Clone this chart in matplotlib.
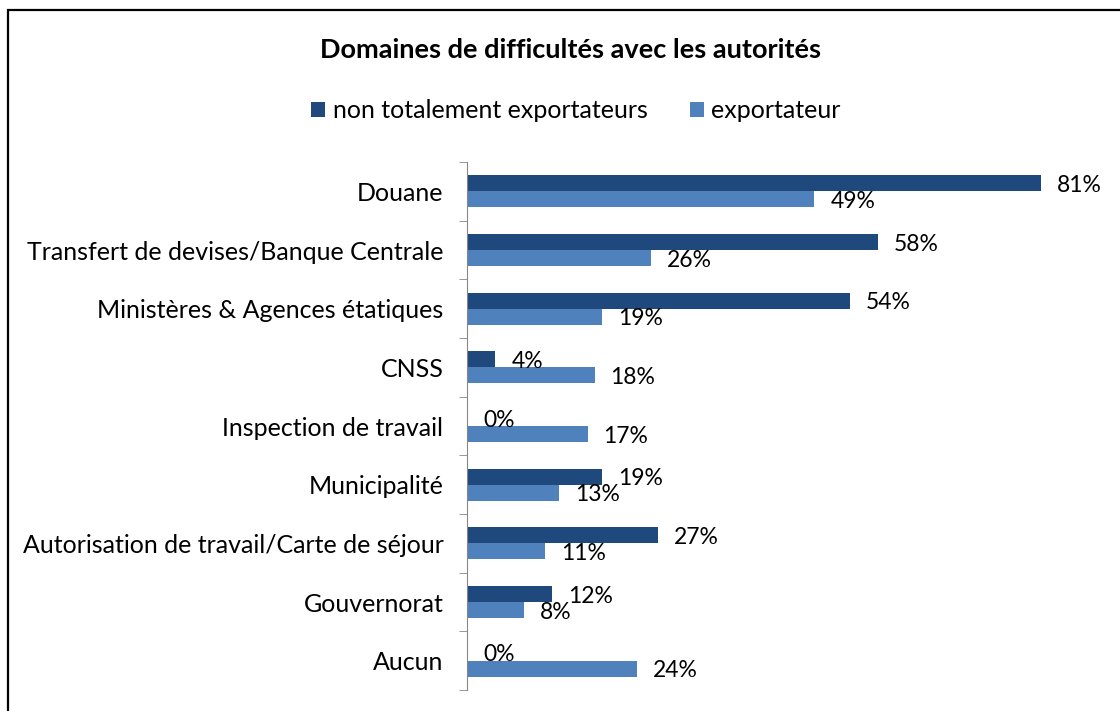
import matplotlib.pyplot as plt
from matplotlib.patches import Rectangle

categories = ["Douane", "Transfert de devises/Banque Centrale", "Ministères & Agences étatiques",
              "CNSS", "Inspection de travail", "Municipalité",
              "Autorisation de travail/Carte de séjour", "Gouvernorat", "Aucun"]
non_export = [81, 58, 54, 4, 0, 19, 27, 12, 0]
export = [49, 26, 19, 18, 17, 13, 11, 8, 24]
series_names = ["non totalement exportateurs", "exportateur"]

dark = "#1F497D"
light = "#4F81BD"

plt.rcParams['font.family'] = ['Lato', 'DejaVu Sans']

fig = plt.figure(figsize=(11.2, 7.11), dpi=100)
fig.patches.append(Rectangle((8 / 1120, -0.1), 1.2, 1 - 10 / 711 + 0.1, transform=fig.transFigure,
                             fill=False, edgecolor="black", linewidth=1.6))

ax = fig.add_axes([467 / 1120, 21 / 711, 638 / 1120, 528 / 711])
h = 0.272
pos = list(range(len(categories)))
b1 = ax.barh([p - h / 2 for p in pos], non_export, height=h, color=dark, label=series_names[0])
b2 = ax.barh([p + h / 2 for p in pos], export, height=h, color=light, label=series_names[1])

for bars, vals in ((b1, non_export), (b2, export)):
    for bar, v in zip(bars, vals):
        ax.annotate(f"{v}%", (v, bar.get_y() + bar.get_height() / 2), xytext=(11.5, -1.5),
                    textcoords="offset points", va="center", ha="left", fontsize=16.5)

ax.set_xlim(0, 90)
ax.set_ylim(len(categories) - 0.5, -0.5)
ax.set_yticks(pos)
ax.set_yticklabels(categories, fontsize=18)
ax.set_yticks([p - 0.5 for p in pos] + [len(categories) - 0.5], minor=True)
ax.tick_params(axis="y", which="major", length=0, pad=17)
ax.tick_params(axis="y", which="minor", length=6, color="#868686", direction="out")
ax.set_xticks([])
for s in ("top", "right", "bottom"):
    ax.spines[s].set_visible(False)
ax.spines["left"].set_color("#868686")

fig.text(571 / 1120, 1 - 50 / 711, "Domaines de difficultés avec les autorités",
         ha="center", va="center", fontsize=19.5, fontweight="bold")
fig.legend(handles=[b1, b2], labels=series_names, loc="center", bbox_to_anchor=(576 / 1120, 1 - 111 / 711),
           ncol=2, frameon=False, fontsize=18, handlelength=0.55, handleheight=0.55,
           handletextpad=0.3, columnspacing=1.7, borderpad=0)

fig.savefig("out.png", dpi=100)
